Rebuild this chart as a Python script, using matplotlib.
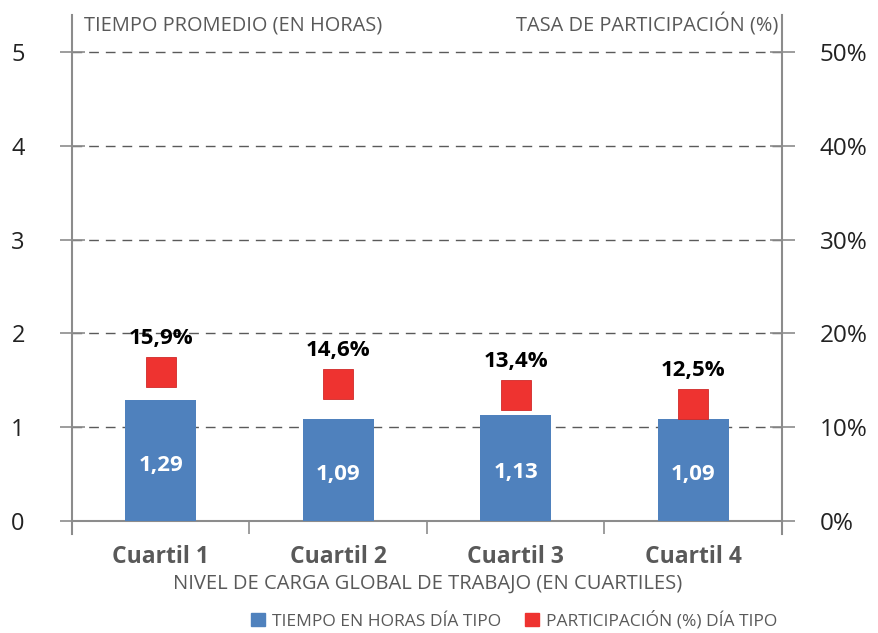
import numpy as np
import matplotlib
matplotlib.use("Agg")
import matplotlib.pyplot as plt
from matplotlib.patches import Patch
from matplotlib.ticker import FuncFormatter

plt.rcParams['font.family'] = ['Open Sans', 'DejaVu Sans']

# Data
cuartiles = ["Cuartil 1", "Cuartil 2", "Cuartil 3", "Cuartil 4"]
horas = [1.29, 1.09, 1.13, 1.09]
participacion = [15.9, 14.6, 13.4, 12.5]

BLUE = "#4F81BD"
RED = "#EE3330"
GRAY = "#595959"
AXC = "#8c8c8c"

fig = plt.figure(figsize=(8.79, 6.33), dpi=100)
ax = fig.add_axes([0.0819, 0.1564, 0.8077, 0.82])
ax2 = ax.twinx()

x = np.arange(len(cuartiles))
ax.bar(x, horas, width=0.4, color=BLUE, zorder=3)
for xi, h in zip(x, horas):
    ax.text(xi, h / 2 - 0.05, f"{h:.2f}".replace(".", ","), color="white",
            fontsize=16, fontweight="bold", ha="center", va="center", zorder=4)

ax2.plot(x, participacion, linestyle="none", marker="s", markersize=21,
         color=RED, markeredgecolor="#d02a28", markeredgewidth=0.6, zorder=5)
for xi, p in zip(x, participacion):
    ax2.annotate(f"{p:.1f}%".replace(".", ","), (xi, p), xytext=(0, 24),
                 textcoords="offset points", ha="center", va="center",
                 fontsize=16, fontweight="bold", color="black")

ax.set_xlim(-0.5, 3.5)
ax.set_ylim(-0.139, 5.394)
ax2.set_ylim(-1.39, 53.94)

# grid
for yv in range(1, 6):
    ax.axhline(yv, color="#5a5a5a", linewidth=1, dashes=(7, 5), zorder=1)

for a in (ax, ax2):
    a.spines["top"].set_visible(False)
    a.spines["bottom"].set_position(("data", 0))
    for s in a.spines.values():
        s.set_color(AXC)
        s.set_linewidth(1.5)
ax2.spines["bottom"].set_visible(False)
ax.spines["right"].set_visible(False)
ax2.spines["left"].set_visible(False)

ax.set_yticks(range(0, 6))
ax.tick_params(axis="y", direction="inout", length=18, width=1.2, color=AXC,
               labelsize=17, pad=25, labelcolor="#222222")
ax2.set_yticks(range(0, 51, 10))
ax2.yaxis.set_major_formatter(FuncFormatter(lambda v, _: f"{v:.0f}%"))
ax2.tick_params(axis="y", direction="inout", length=18, width=1.2, color=AXC,
                labelsize=17.5, pad=18, labelcolor="#222222")

ax.set_xticks(x)
ax.set_xticklabels(cuartiles, fontsize=16.5, fontweight="bold", color=GRAY)
ax.set_xticks(np.arange(-0.5, 4, 1), minor=True)
ax.tick_params(axis="x", which="major", length=0, pad=17)
ax.tick_params(axis="x", which="minor", length=9, width=1.2, color=AXC,
               direction="out")

fig.text(0.095, 0.96, "TIEMPO PROMEDIO (EN HORAS)", fontsize=14.4,
         color=GRAY, ha="left", va="center")
fig.text(0.885, 0.96, "TASA DE PARTICIPACIÓN (%)", fontsize=14.4,
         color=GRAY, ha="right", va="center")
fig.text(0.487, 0.078, "NIVEL DE CARGA GLOBAL DE TRABAJO (EN CUARTILES)",
         fontsize=14.5, color=GRAY, ha="center", va="center")

handles = [Patch(color=BLUE, label="TIEMPO EN HORAS DÍA TIPO"),
           Patch(color=RED, label="PARTICIPACIÓN (%) DÍA TIPO")]
leg = fig.legend(handles=handles, loc="center", bbox_to_anchor=(0.585, 0.02),
                 ncol=2, frameon=False, fontsize=12.5, handlelength=0.8,
                 handleheight=0.8, handletextpad=0.4, columnspacing=1.4)
for t in leg.get_texts():
    t.set_color(GRAY)

fig.savefig("out.png", dpi=100)
